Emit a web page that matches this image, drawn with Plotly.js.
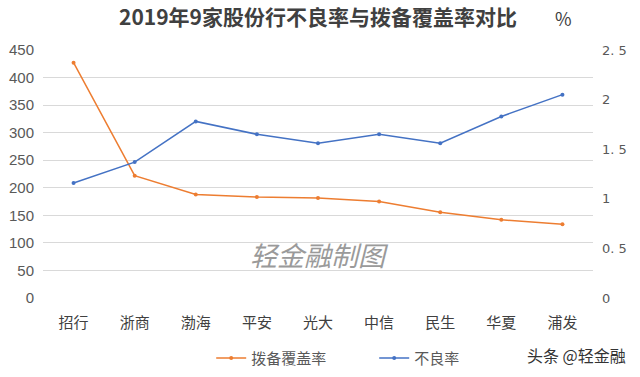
<!DOCTYPE html>
<html><head><meta charset="utf-8">
<script src="https://cdn.plot.ly/plotly-3.0.1.min.js"></script>
<style>html,body{margin:0;padding:0;background:#fff}#c{width:640px;height:377px}</style>
</head><body><div id="c"></div>
<script>
const banks = ["招行","浙商","渤海","平安","光大","中信","民生","华夏","浦发"];
const coverage = [427.01, 221.9, 187.7, 183.1, 181.6, 175.3, 155.7, 141.9, 133.9];
const nplRatio = [1.16, 1.37, 1.78, 1.65, 1.56, 1.65, 1.56, 1.83, 2.05];
const leftTicks = [0,50,100,150,200,250,300,350,400,450];
const rightTicks = [0,0.5,1,1.5,2,2.5];
const rightTickText = ["0","0. 5","1","1. 5","2","2. 5"];

const cjk = '"Noto Sans CJK SC", "Noto Sans", sans-serif';
const traces = [
  {x: banks, y: coverage, name: "拨备覆盖率", type: "scatter", mode: "lines+markers",
   line: {color: "#ED7D31", width: 1.5}, marker: {color: "#ED7D31", size: 4}, yaxis: "y"},
  {x: banks, y: nplRatio, name: "不良率", type: "scatter", mode: "lines+markers",
   line: {color: "#4472C4", width: 1.5}, marker: {color: "#4472C4", size: 4}, yaxis: "y2"}
];
const layout = {
  width: 640, height: 377,
  margin: {l: 43, r: 47, t: 50, b: 79, autoexpand: false},
  paper_bgcolor: "#fff", plot_bgcolor: "#fff",
  showlegend: true,
  legend: {orientation: "h", x: 0.33, xanchor: "left", xref: "container",
    y: 0.05, yanchor: "middle", yref: "container",
    font: {family: cjk, size: 15, color: "#595959"}, itemwidth: 30, entrywidth: 118},
  title: {text: "2019年9家股份行不良率与拨备覆盖率对比", x: 0.5, xanchor: "center", xref: "paper",
    y: 0.952, yanchor: "middle",
    font: {family: cjk, size: 21, color: "#404040", weight: "bold"}},
  xaxis: {type: "category", showgrid: false, zeroline: false, showline: false, ticks: "",
    tickfont: {family: cjk, size: 15, color: "#404040"}, range: [-0.5, 8.5], ticklabelstandoff: 14},
  yaxis: {range: [0, 450], tickvals: leftTicks, showgrid: true, gridcolor: "#d9d9d9",
    zeroline: false, showline: false, ticks: "", tickfont: {family: "Liberation Sans, Arial", size: 15, color: "#595959"},
    ticklabelstandoff: 8},
  yaxis2: {range: [0, 2.5], tickvals: rightTicks, ticktext: rightTickText, overlaying: "y", side: "right",
    showgrid: false, zeroline: false, showline: false, ticks: "",
    tickfont: {family: "DejaVu Sans", size: 13, color: "#595959"}, ticklabelstandoff: 8},
  annotations: [
    {text: "%", xref: "paper", yref: "paper", x: 0.965, y: 1.129, yanchor: "middle", showarrow: false,
     font: {family: cjk, size: 18, color: "#404040"}},
    {text: "<i>轻金融制图</i>", xref: "paper", yref: "paper", x: 0.372, xanchor: "left", y: 0.175, yanchor: "middle", showarrow: false,
     font: {family: cjk, size: 27, color: "#9a9a9a"}},
    {text: "头条 @轻金融", xref: "paper", yref: "paper", x: 1.063, xanchor: "right", y: -0.23, yanchor: "middle", showarrow: false,
     font: {family: cjk, size: 16, color: "#333"}}
  ]
};
Plotly.newPlot("c", traces, layout, {displayModeBar: false});
</script></body></html>
